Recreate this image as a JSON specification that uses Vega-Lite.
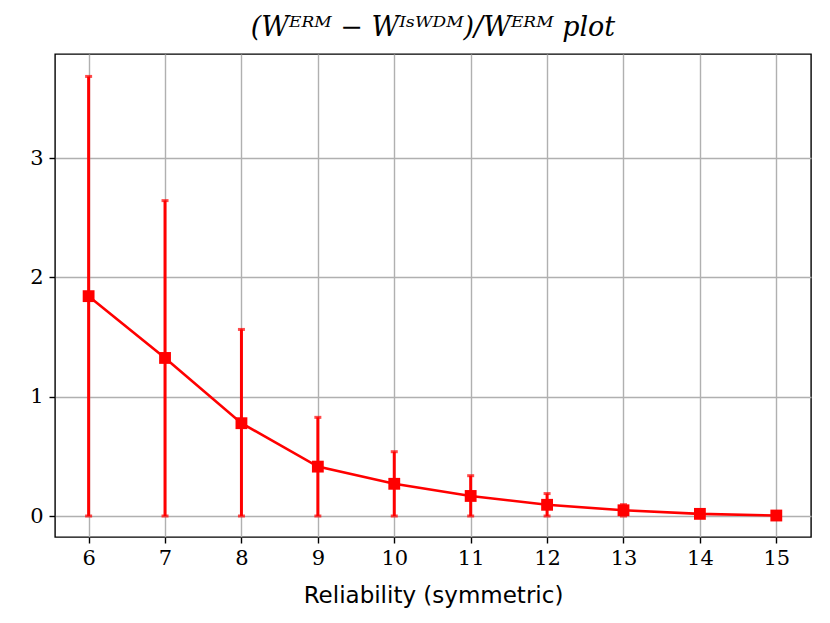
{
  "$schema": "https://vega.github.io/schema/vega-lite/v6.json",
  "width": 756,
  "height": 483,
  "autosize": "none",
  "padding": {"left": 55, "top": 54, "right": 19, "bottom": 86},
  "background": "white",
  "title": {
    "text": "(Wᴱᴿᴹ − Wᴵˢᵂᴰᴹ)/Wᴱᴿᴹ plot",
    "font": "DejaVu Serif",
    "fontStyle": "italic",
    "fontWeight": "normal",
    "fontSize": 27,
    "color": "black",
    "offset": 12,
    "anchor": "middle"
  },
  "config": {
    "view": {"stroke": "black", "strokeWidth": 1.4},
    "axis": {
      "grid": true,
      "gridColor": "#b0b0b0",
      "gridWidth": 1.4,
      "gridOpacity": 1,
      "domain": false,
      "tickColor": "black",
      "tickWidth": 1.4,
      "tickSize": 6,
      "labelFont": "DejaVu Serif",
      "labelFontSize": 21,
      "labelColor": "black",
      "titleFont": "DejaVu Sans",
      "titleFontSize": 23,
      "titleFontWeight": "normal",
      "titleColor": "black"
    }
  },
  "data": {
    "values": [
      {"r": 6, "mean": 1.843, "lo": 0, "hi": 3.685},
      {"r": 7, "mean": 1.325, "lo": 0, "hi": 2.644},
      {"r": 8, "mean": 0.778, "lo": 0, "hi": 1.564},
      {"r": 9, "mean": 0.414, "lo": 0, "hi": 0.827},
      {"r": 10, "mean": 0.27, "lo": 0, "hi": 0.539},
      {"r": 11, "mean": 0.168, "lo": 0, "hi": 0.338},
      {"r": 12, "mean": 0.094, "lo": 0, "hi": 0.188},
      {"r": 13, "mean": 0.048, "lo": 0, "hi": 0.095},
      {"r": 14, "mean": 0.018, "lo": 0, "hi": 0.035},
      {"r": 15, "mean": 0.004, "lo": 0, "hi": 0.008}
    ]
  },
  "encoding": {
    "x": {
      "field": "r",
      "type": "quantitative",
      "scale": {"domain": [5.56, 15.454], "nice": false, "zero": false},
      "axis": {"values": [6, 7, 8, 9, 10, 11, 12, 13, 14, 15], "format": "d", "title": "Reliability (symmetric)", "labelPadding": 4, "titlePadding": 16}
    }
  },
  "layer": [
    {
      "mark": {
        "type": "errorbar",
        "color": "red",
        "rule": {"strokeWidth": 3},
        "ticks": {"size": 7, "thickness": 3, "color": "red"}
      },
      "encoding": {
        "y": {
          "field": "lo",
          "type": "quantitative",
          "scale": {"domain": [-0.176, 3.873], "nice": false, "zero": false},
          "axis": {"values": [0, 1, 2, 3], "format": "d", "title": null, "labelPadding": 6}
        },
        "y2": {"field": "hi"}
      }
    },
    {
      "mark": {"type": "line", "color": "red", "strokeWidth": 2.6},
      "encoding": {"y": {"field": "mean", "type": "quantitative"}}
    },
    {
      "mark": {"type": "square", "color": "red", "opacity": 1, "filled": true, "size": 140},
      "encoding": {"y": {"field": "mean", "type": "quantitative"}}
    }
  ]
}
